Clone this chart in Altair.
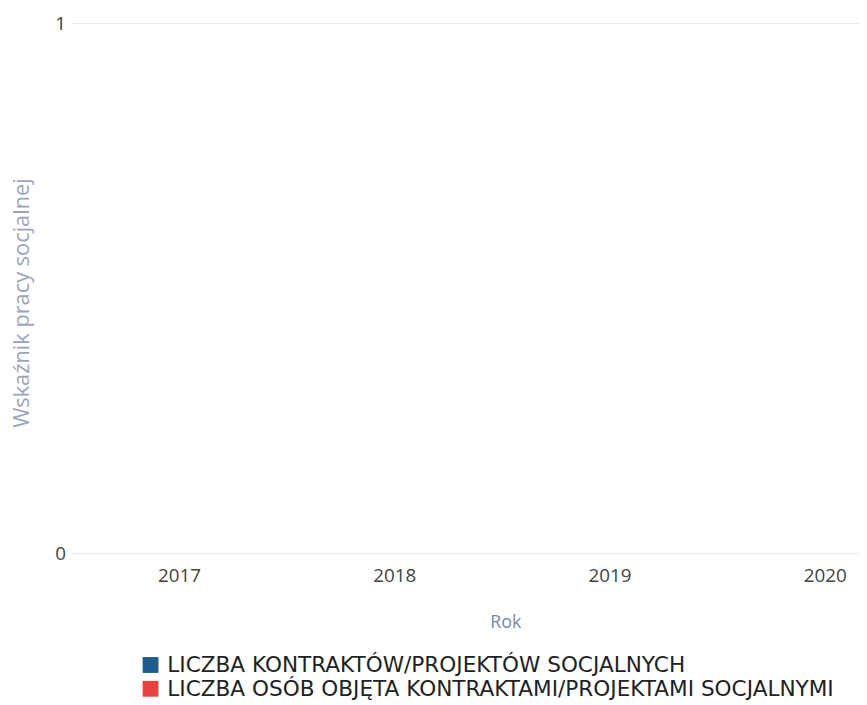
import altair as alt
import pandas as pd

years = [2017, 2018, 2019, 2020]
series_names = [
    "LICZBA KONTRAKTÓW/PROJEKTÓW SOCJALNYCH",
    "LICZBA OSÓB OBJĘTA KONTRAKTAMI/PROJEKTAMI SOCJALNYMI",
]
contracts = [0, 0, 0, 0]
people = [0, 0, 0, 0]
y_ticks = [0, 1]
colors = ["#1f5b8c", "#e9423f"]

rows = []
for y, a, b in zip(years, contracts, people):
    rows.append({"Rok": y, "Seria": series_names[0], "Wartość": a})
    rows.append({"Rok": y, "Seria": series_names[1], "Wartość": b})
df = pd.DataFrame(rows)

FONT = "Open Sans"

chart = alt.Chart(df).mark_bar().encode(
    x=alt.X("Rok:Q",
            scale=alt.Scale(domain=[2016.523, 2020.136], nice=False, zero=False),
            axis=alt.Axis(values=years, format="d", title="Rok", grid=False,
                          domain=False, ticks=False, labelPadding=14,
                          labelFontSize=19, labelColor="#444444", labelFont=FONT,
                          titleFont=FONT, titleFontSize=18, titleColor="#7888ad",
                          titleFontWeight="normal", titleX=438, titleY=70,
                          titleBaseline="middle")),
    y=alt.Y("Wartość:Q",
            scale=alt.Scale(domain=[0, 1], nice=False),
            axis=alt.Axis(values=y_ticks, format="d",
                          title="Wskaźnik pracy socjalnej",
                          grid=True, gridColor="#e8e8e8", domain=False, ticks=False,
                          labelPadding=6, labelFontSize=19, labelColor="#444444",
                          labelFont=FONT, titleFont=FONT, titleFontSize=22,
                          titleColor="#9ba5bd", titleFontWeight="normal",
                          titleX=-50, titleY=282, titleBaseline="middle",
                          titleAngle=270)),
    color=alt.Color("Seria:N",
                    scale=alt.Scale(domain=series_names, range=colors),
                    legend=alt.Legend(title=None, orient="none", legendX=69,
                                      legendY=637, direction="vertical",
                                      symbolType="square",
                                      symbolSize=256, symbolStrokeWidth=0,
                                      labelFont="DejaVu Sans", labelFontSize=21.8,
                                      labelColor="#222222", labelLimit=800,
                                      rowPadding=1, labelOffset=6)),
).properties(
    width=795,
    height=535,
    padding={"left": 64, "top": 12, "right": 0, "bottom": 150},
    autosize=alt.AutoSizeParams(type="none"),
).configure_view(stroke=None)

chart.save("out.html", embed_options={"renderer": "svg", "actions": False})
